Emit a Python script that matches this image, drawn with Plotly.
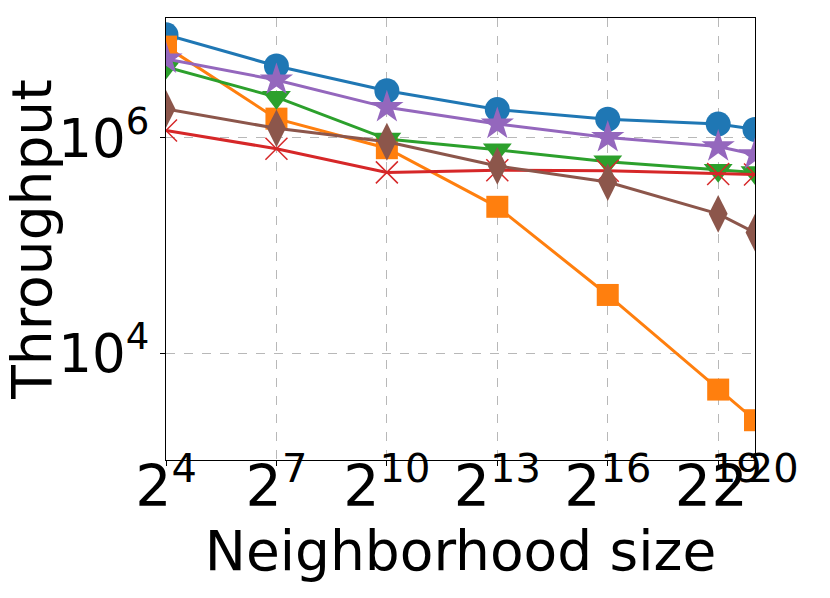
import plotly.graph_objects as go
import numpy as np

# neighborhood sizes (powers of two)
exponents = [4, 7, 10, 13, 16, 19, 20]
sizes = [2 ** e for e in exponents]

# throughput (log10 values)
log_blue = [6.96, 6.67, 6.44, 6.265, 6.175, 6.13, 6.08]
log_orange = [6.85, 6.18, 5.905, 5.36, 4.54, 3.66, 3.375]
log_green = [6.66, 6.38, 5.99, 5.89, 5.78, 5.70, 5.68]
log_red = [6.07, 5.90, 5.68, 5.70, 5.695, 5.665, 5.66]
log_purple = [6.735, 6.54, 6.285, 6.13, 6.005, 5.92, 5.845]
log_brown = [6.27, 6.09, 5.965, 5.74, 5.59, 5.295, 5.12]

x_ticktext = ["2<sup>%d</sup>" % e for e in exponents]
y_tickvals = [1e4, 1e6]
y_ticktext = ["10<sup>4</sup>", "10<sup>6</sup>"]

series = [
    ("blue", log_blue, "#1f77b4", "circle", 25),
    ("orange", log_orange, "#ff7f0e", "square", 22),
    ("green", log_green, "#2ca02c", "triangle-down", 25),
    ("red", log_red, "#d62728", "x-thin-open", 22),
    ("purple", log_purple, "#9467bd", "star", 25),
    ("brown", log_brown, "#8c564b", "diamond-tall", 27),
]

fig = go.Figure()
for name, vals, color, symbol, size in series:
    fig.add_trace(go.Scatter(
        x=sizes, y=list(10 ** np.array(vals)), mode="lines+markers", name=name,
        line=dict(color=color, width=3),
        marker=dict(symbol=symbol, size=size, color=color,
                    line=dict(color=color, width=1.5 if symbol == "x-thin-open" else 0)),
    ))

axis_common = dict(
    showline=True, linecolor="black", linewidth=1.3, mirror=True,
    ticks="outside", ticklen=5, tickwidth=1.2, tickcolor="black",
    showgrid=True, gridcolor="#b8b8b8", griddash="dash", gridwidth=1,
    zeroline=False, automargin=False, tickangle=0,
)

fig.update_layout(
    width=830, height=598,
    margin=dict(l=166, r=75, t=18, b=138),
    paper_bgcolor="white", plot_bgcolor="white",
    showlegend=False,
    font=dict(family="DejaVu Sans", color="black"),
    xaxis=dict(
        type="log", range=[np.log10(16), np.log10(2 ** 20)],
        tickvals=sizes, ticktext=x_ticktext, tickfont=dict(size=57),
        ticklabelstandoff=-29,
        title=dict(text="Neighborhood size", font=dict(size=55), standoff=0),
        **axis_common,
    ),
    yaxis=dict(
        type="log", range=[3.005, 7.116],
        tickvals=y_tickvals, ticktext=y_ticktext, tickfont=dict(size=53),
        title=dict(text="Throughput", font=dict(size=55), standoff=8),
        **axis_common,
    ),
)

# drop the default page margin so the figure sits at the window's corner
fig.write_html("out.html", config={"displayModeBar": False},
               post_script="document.body.style.margin = '0';")
